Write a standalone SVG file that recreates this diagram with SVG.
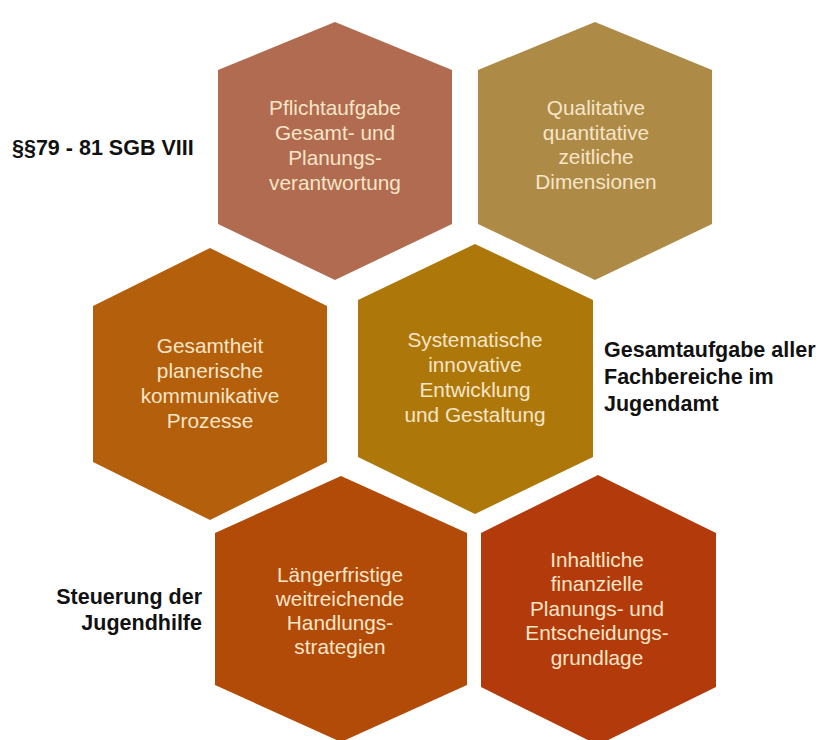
<svg xmlns="http://www.w3.org/2000/svg" width="829" height="740" viewBox="0 0 829 740">
<style>
.ht{font-family:"Liberation Sans",Arial,sans-serif;font-size:20.8px;fill:#F7E5C7;text-anchor:middle}
.lb{font-family:"Liberation Sans",Arial,sans-serif;font-size:21.5px;font-weight:bold;fill:#111}
</style>
<rect width="829" height="740" fill="#fff"/>
<g id="hex1">
<polygon points="335,22 452,70 452,224 335,280 218,224 218,70" fill="#B06B50"/>
<text class="ht" x="335" y="115">Pflichtaufgabe</text>
<text class="ht" x="335" y="140">Gesamt- und</text>
<text class="ht" x="335" y="165">Planungs-</text>
<text class="ht" x="335" y="190">verantwortung</text>
</g>
<g id="hex2">
<polygon points="595,22 712,70 712,224 595,280 478,224 478,70" fill="#AE8A47"/>
<text class="ht" x="596" y="115">Qualitative</text>
<text class="ht" x="596" y="140">quantitative</text>
<text class="ht" x="596" y="164">zeitliche</text>
<text class="ht" x="596" y="189">Dimensionen</text>
</g>
<g id="hex3">
<polygon points="210,248 327,306 327,462 210,520 93,462 93,306" fill="#B35F0C"/>
<text class="ht" x="210" y="353">Gesamtheit</text>
<text class="ht" x="210" y="378">planerische</text>
<text class="ht" x="210" y="403">kommunikative</text>
<text class="ht" x="210" y="428">Prozesse</text>
</g>
<g id="hex4">
<polygon points="475,244 593,300 593,457 475,514 358,457 358,300" fill="#AD770A"/>
<text class="ht" x="475" y="347">Systematische</text>
<text class="ht" x="475" y="372">innovative</text>
<text class="ht" x="475" y="397">Entwicklung</text>
<text class="ht" x="475" y="422">und Gestaltung</text>
</g>
<g id="hex5">
<polygon points="341,476 467,533 467,685 341,742 215,685 215,533" fill="#B24A08"/>
<text class="ht" x="340" y="582">Längerfristige</text>
<text class="ht" x="340" y="606">weitreichende</text>
<text class="ht" x="340" y="630">Handlungs-</text>
<text class="ht" x="340" y="654">strategien</text>
</g>
<g id="hex6">
<polygon points="598,475 716,533 716,687 598,745 481,687 481,533" fill="#B33A0A"/>
<text class="ht" x="597" y="567">Inhaltliche</text>
<text class="ht" x="597" y="591">finanzielle</text>
<text class="ht" x="597" y="616">Planungs- und</text>
<text class="ht" x="597" y="640">Entscheidungs-</text>
<text class="ht" x="597" y="665">grundlage</text>
</g>
<g id="connectors"></g>
<g id="labels">
<text class="lb" x="12" y="155">§§79 - 81 SGB VIII</text>
<text class="lb" x="604" y="357">Gesamtaufgabe aller</text>
<text class="lb" x="604" y="384">Fachbereiche im</text>
<text class="lb" x="604" y="411">Jugendamt</text>
<text class="lb" x="202" y="604" text-anchor="end">Steuerung der</text>
<text class="lb" x="202" y="630" text-anchor="end">Jugendhilfe</text>
</g>
</svg>
